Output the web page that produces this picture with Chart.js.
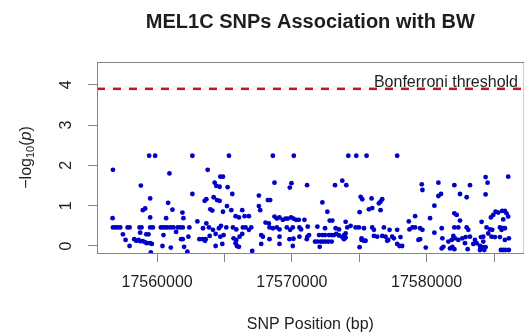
<!DOCTYPE html>
<html>
<head>
<meta charset="utf-8">
<script src="https://cdn.jsdelivr.net/npm/chart.js@4.4.1/dist/chart.umd.min.js"></script>
<style>
  html, body { margin: 0; padding: 0; background: #fff; overflow: hidden; }
  canvas { display: block; }
</style>
</head>
<body>
<canvas id="manhattan" width="526" height="334"></canvas>
<script>
// MEL1C SNPs: [position (bp), -log10(p)]
const snpPoints = [
  [17556722,1.89],[17559411,2.24],[17559855,2.24],[17562618,2.24],[17560916,1.80],[17558794,1.50],
  [17562618,1.29],[17559485,1.18],[17560817,1.07],[17559115,0.93],[17558942,0.89],[17561138,0.90],
  [17561878,0.83],[17556698,0.69],[17559485,0.71],[17560669,0.69],[17561952,0.69],[17562988,0.61],
  [17556722,0.46],[17556895,0.46],[17557068,0.46],[17557265,0.46],[17557808,0.46],[17557956,0.46],
  [17558696,0.46],[17558844,0.46],[17559485,0.46],[17559683,0.46],[17560275,0.46],[17560423,0.46],
  [17560595,0.46],[17560793,0.46],[17561015,0.46],[17561212,0.46],[17561533,0.46],[17561706,0.46],
  [17561903,0.46],[17562396,0.46],
  [17557462,0.29],[17558745,0.33],[17559189,0.29],[17559362,0.29],[17560472,0.27],[17561409,0.35],
  [17561780,0.17],[17561903,0.17],[17562322,0.23],[17563136,0.17],[17557660,0.15],[17558301,0.17],
  [17558449,0.13],[17558622,0.15],[17558745,0.12],[17558942,0.12],[17559115,0.09],[17559238,0.07],
  [17559485,0.07],[17559609,0.05],[17557956,0.00],[17560398,0.00],[17561015,-0.04],[17562002,-0.02],
  [17562248,-0.14],[17563383,0.17],[17563556,0.13],[17559534,-0.16],

  [17565331,2.24],[17568587,2.24],[17570142,2.24],[17563752,1.89],[17564690,1.72],[17564887,1.72],
  [17564270,1.57],[17564394,1.49],[17564640,1.47],[17565232,1.46],[17568711,1.57],[17569969,1.56],
  [17569846,1.45],[17571128,1.51],[17565578,1.29],[17567551,1.25],[17568217,1.14],[17568390,1.14],
  [17563653,1.16],[17563530,1.12],[17564196,1.21],[17564443,1.14],[17564640,1.12],[17565183,0.99],
  [17563949,0.91],[17564097,0.88],[17564887,0.85],[17565504,0.89],[17566318,0.89],[17567551,0.99],
  [17567650,0.89],[17565824,0.74],[17566071,0.71],[17566490,0.74],[17566811,0.74],
  [17568711,0.73],[17568883,0.68],[17569081,0.71],[17569328,0.65],[17569525,0.68],[17569698,0.68],
  [17569944,0.71],[17570117,0.68],[17570314,0.65],[17570512,0.65],[17570931,0.65],
  [17563653,0.56],[17563407,0.44],[17563851,0.46],[17564147,0.40],[17564591,0.44],[17564739,0.50],
  [17565134,0.46],[17565627,0.46],[17565874,0.41],[17566367,0.46],[17566564,0.46],[17566811,0.40],
  [17566984,0.46],[17568045,0.58],[17568291,0.56],[17568341,0.46],[17568587,0.44],[17568883,0.46],
  [17569081,0.41],[17569624,0.46],[17569870,0.40],[17570068,0.46],[17570561,0.46],[17570684,0.41],
  [17571178,0.48],
  [17563900,0.25],[17564344,0.30],[17563604,0.17],[17564690,0.23],[17564936,0.27],[17565676,0.19],
  [17565874,0.15],[17566120,0.23],[17566318,0.30],[17565824,0.07],[17566071,-0.02],[17565923,0.00],
  [17567724,0.27],[17567847,0.23],[17568341,0.17],[17569081,0.23],[17569821,0.17],[17570117,0.18],
  [17570561,0.23],[17571104,0.17],[17564344,0.00],[17564838,0.05],[17567724,0.05],[17569081,0.05],
  [17570068,0.00],[17567058,-0.12],

  [17574186,2.24],[17574779,2.24],[17575543,2.24],[17577813,2.24],[17573200,1.51],[17573742,1.62],
  [17574038,1.51],[17575099,1.22],[17575223,1.16],[17575913,1.18],[17576703,1.16],[17576579,1.10],
  [17576456,1.06],[17572262,1.08],[17572632,0.85],[17575025,0.84],[17575716,0.91],[17575963,0.94],
  [17576579,0.89],[17572805,0.63],[17573002,0.63],[17573989,0.60],[17578676,0.61],
  [17571892,0.48],[17572460,0.44],[17573249,0.44],[17573496,0.41],[17574112,0.46],[17574359,0.50],
  [17574729,0.46],[17574976,0.46],[17575346,0.44],[17575963,0.46],[17576086,0.40],[17576826,0.46],
  [17577246,0.40],[17577813,0.40],[17578726,0.41],
  [17571152,0.23],[17571275,0.27],[17572016,0.27],[17572262,0.27],[17572460,0.27],[17572756,0.27],
  [17572953,0.27],[17573126,0.27],[17573298,0.30],[17573496,0.26],[17573866,0.27],[17573989,0.31],
  [17573742,0.22],[17575173,0.19],[17575346,0.13],[17576086,0.25],[17576333,0.23],[17576703,0.25],
  [17576950,0.23],[17577443,0.23],[17577566,0.19],[17578060,0.22],[17577147,0.15],
  [17571719,0.11],[17571892,0.11],[17572139,0.11],[17572312,0.11],[17572509,0.11],[17572706,0.11],
  [17572953,0.11],[17572065,-0.02],[17573866,0.17],[17573989,0.21],[17575173,0.15],[17575469,0.13],
  [17577073,0.13],[17577813,0.05],[17577986,0.00],[17578183,0.00],[17575025,-0.03],

  [17586052,1.72],[17584374,1.71],[17584522,1.57],[17579638,1.53],[17579687,1.39],[17580871,1.57],
  [17582055,1.51],[17583215,1.51],[17581068,1.29],[17580871,1.24],[17582475,1.29],[17582968,1.21],
  [17584374,1.28],[17580575,1.00],[17582055,0.81],[17582228,0.77],[17582475,0.63],[17580254,0.69],
  [17579144,0.74],[17584078,0.60],[17584942,0.77],[17585114,0.85],[17585312,0.83],[17585608,0.87],
  [17585805,0.87],[17585928,0.81],[17586052,0.73],[17585682,0.66],[17584769,0.71],
  [17578947,0.46],[17579144,0.46],[17579514,0.44],[17579687,0.40],[17581118,0.44],[17582055,0.46],
  [17582351,0.46],[17582968,0.46],[17583091,0.40],[17584448,0.46],[17584695,0.41],[17584868,0.40],
  [17585435,0.46],[17585682,0.44],[17584572,0.31],[17585558,0.40],[17585805,0.44],
  [17580575,0.33],[17579391,0.15],[17579514,0.17],[17581167,0.19],[17581981,0.25],[17582104,0.19],
  [17582351,0.15],[17582647,0.19],[17582894,0.22],[17583215,0.23],[17583585,0.15],[17584029,0.22],
  [17584201,0.23],[17584818,0.23],[17585065,0.22],[17585435,0.22],[17586101,0.19],[17585805,0.15],
  [17579934,-0.04],[17581118,-0.06],[17581241,-0.02],[17581734,-0.06],[17581907,-0.02],[17582055,-0.08],
  [17583042,-0.08],[17583461,0.05],[17583708,0.07],[17583955,0.00],[17584127,-0.03],[17584275,-0.10],
  [17584374,-0.03],[17583955,-0.10],[17585509,-0.10],[17585682,-0.10],[17585854,-0.10],[17586101,-0.10],
  [17581611,0.11],[17581858,0.15],[17582845,0.07],[17584201,0.11]
];

const bonferroni = 3.9;
const xTicks = [17560000, 17565000, 17570000, 17575000, 17580000, 17585000];
const xTickLabels = ['17560000', '', '17570000', '', '17580000', ''];
const yTicks = [0, 1, 2, 3, 4];
const xMin = 17555540, xMax = 17587194;
const yMin = -0.174, yMax = 4.566;

const boxColor = '#858585';
const textColor = '#1e1e1e';
const fontName = '"Liberation Sans", Arial, sans-serif';

// titles, tick labels, threshold line and frame
const overlay = {
  id: 'overlay',
  afterDraw(chart) {
    const c = chart.ctx;
    const area = chart.chartArea;
    const xs = chart.scales.x, ys = chart.scales.y;
    c.save();
    c.fillStyle = textColor;

    c.font = 'bold 20px ' + fontName;
    c.textAlign = 'center';
    c.textBaseline = 'middle';
    c.fillText('MEL1C SNPs Association with BW', (area.left + area.right) / 2, 22);

    c.font = '16px ' + fontName;
    xTicks.forEach((v, i) => {
      if (xTickLabels[i]) c.fillText(xTickLabels[i], xs.getPixelForValue(v), 283);
    });
    c.fillText('SNP Position (bp)', (area.left + area.right) / 2, 325);

    yTicks.forEach(v => {
      c.save();
      c.translate(67, ys.getPixelForValue(v));
      c.rotate(-Math.PI / 2);
      c.fillText(String(v), 0, 0);
      c.restore();
    });

    // y axis title: -log10(p)
    c.save();
    c.translate(27, (area.top + area.bottom) / 2);
    c.rotate(-Math.PI / 2);
    const big = '16px ' + fontName, small = '11px ' + fontName, ital = 'italic 16px ' + fontName;
    const parts = [['\u2212log', big, 0], ['10', small, 4], ['(', big, 0], ['p', ital, 0], [')', big, 0]];
    let total = 0;
    parts.forEach(p => { c.font = p[1]; total += c.measureText(p[0]).width; });
    let px = -total / 2;
    c.textAlign = 'left';
    parts.forEach(p => {
      c.font = p[1];
      c.fillText(p[0], px, p[2]);
      px += c.measureText(p[0]).width;
    });
    c.restore();

    c.font = '16px ' + fontName;
    c.textAlign = 'right';
    c.textBaseline = 'alphabetic';
    c.fillText('Bonferroni threshold', 518, 87);

    const ty = ys.getPixelForValue(bonferroni);
    c.strokeStyle = '#cc1414';
    c.lineWidth = 2.5;
    c.setLineDash([8, 8]);
    c.beginPath();
    c.moveTo(area.left, ty);
    c.lineTo(area.right, ty);
    c.stroke();
    c.setLineDash([]);

    c.strokeStyle = boxColor;
    c.lineWidth = 1;
    c.strokeRect(area.left + 0.5, area.top + 0.5, area.right - area.left, area.bottom - area.top);
    c.restore();
  }
};

const ctx = document.getElementById('manhattan').getContext('2d');
const manhattan = new Chart(ctx, {
  type: 'scatter',
  data: {
    datasets: [{
      data: snpPoints.map(p => ({ x: p[0], y: p[1] })),
      backgroundColor: '#0000c8',
      borderWidth: 0,
      pointRadius: 2.4,
      pointHoverRadius: 2.4
    }]
  },
  options: {
    responsive: false,
    animation: false,
    events: [],
    layout: { padding: { top: 62, right: 1, left: 0, bottom: 0 } },
    plugins: { legend: { display: false }, tooltip: { enabled: false } },
    scales: {
      x: {
        type: 'linear',
        min: xMin,
        max: xMax,
        afterFit: s => { s.height = 81; },
        afterBuildTicks: s => { s.ticks = xTicks.map(v => ({ value: v })); },
        ticks: { display: false },
        border: { display: false },
        grid: { drawOnChartArea: false, tickLength: 9, color: boxColor, lineWidth: 1 }
      },
      y: {
        type: 'linear',
        min: yMin,
        max: yMax,
        afterFit: s => { s.width = 97; },
        afterBuildTicks: s => { s.ticks = yTicks.map(v => ({ value: v })); },
        ticks: { display: false },
        border: { display: false },
        grid: { drawOnChartArea: false, tickLength: 9, color: boxColor, lineWidth: 1 }
      }
    }
  },
  plugins: [overlay]
});
</script>
</body>
</html>
